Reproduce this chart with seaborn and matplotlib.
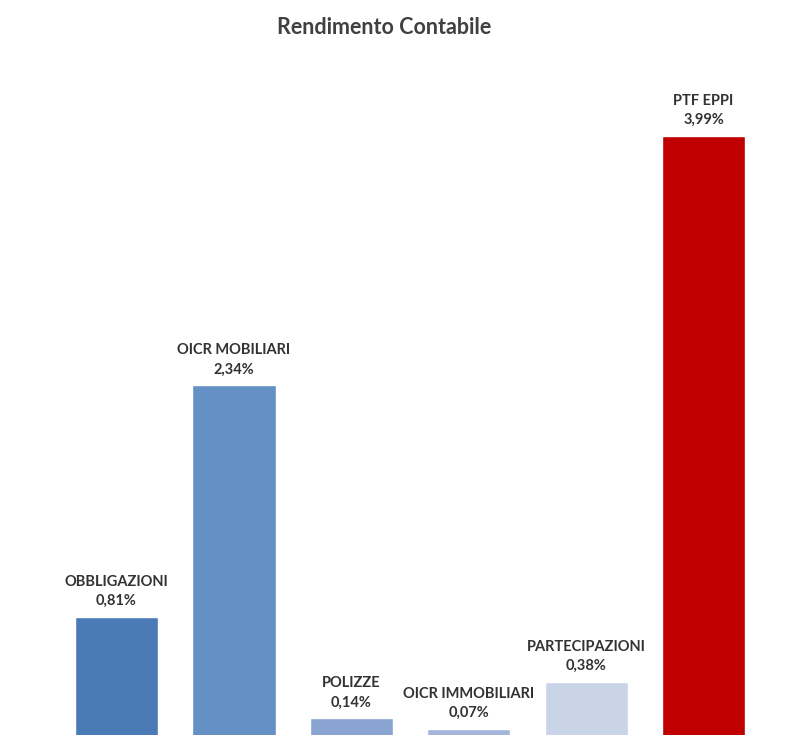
import matplotlib
matplotlib.use("Agg")
import matplotlib.pyplot as plt
import seaborn as sns
import pandas as pd

categories = ["OBBLIGAZIONI", "OICR MOBILIARI", "POLIZZE", "OICR IMMOBILIARI", "PARTECIPAZIONI", "PTF EPPI"]
values = [0.81, 2.34, 0.14, 0.07, 0.38, 3.99]
value_labels = ["0,81%", "2,34%", "0,14%", "0,07%", "0,38%", "3,99%"]
colors = ["#4a7bb7", "#6590c6", "#8aa4d2", "#a3b5dd", "#c9d4e8", "#c00000"]

sns.set_theme(style="white")
plt.rcParams['font.family'] = ['Lato', 'DejaVu Sans']

df = pd.DataFrame({"cat": categories, "val": values})

fig = plt.figure(figsize=(7.97, 7.35), dpi=100)
ax = fig.add_axes([0.0725, -0.0061, 0.884, 0.9264])
sns.barplot(data=df, x="cat", y="val", hue="cat", palette=colors, width=0.71,
            saturation=1, legend=False, ax=ax, order=categories, hue_order=categories)
ax.set_xlim(-0.5, 5.5)
ax.set_ylim(0, 4.5)
ax.axis("off")

for i, (c, v, lab) in enumerate(zip(categories, values, value_labels)):
    ax.annotate(f"{c}\n{lab}", xy=(i, v), xytext=(0, 9), textcoords="offset pixels",
                ha="center", va="bottom", fontsize=10.5, fontweight="bold",
                color="#333333", linespacing=1.45)

fig.text(384 / 797, 1 - 28 / 735, "Rendimento Contabile", ha="center", va="center",
         fontsize=15.5, fontweight="bold", color="#404040")

fig.savefig("out.png", dpi=100)
